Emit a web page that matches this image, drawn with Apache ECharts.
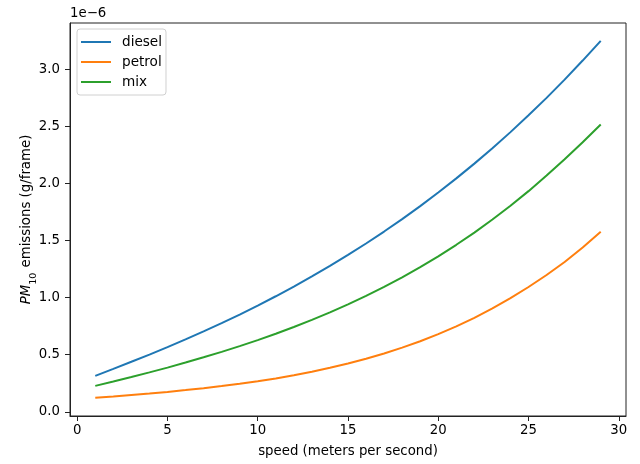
<!DOCTYPE html>
<html>
<head>
<meta charset="utf-8">
<script src="https://cdn.jsdelivr.net/npm/echarts@6/dist/echarts.min.js"></script>
<style>html,body{margin:0;padding:0;background:#fff;}#c{width:640px;height:464px;}</style>
</head>
<body>
<div id="c"></div>
<script>
// speed (m/s)
var speeds = [1,2,3,4,5,6,7,8,9,10,11,12,13,14,15,16,17,18,19,20,21,22,23,24,25,26,27,28,29];
// PM10 emissions in units of 1e-6 g/frame
var diesel = [0.315,0.376,0.438,0.501,0.566,0.634,0.704,0.776,0.851,0.930,1.012,1.097,1.186,1.278,1.374,1.474,1.579,1.688,1.802,1.921,2.045,2.174,2.309,2.450,2.597,2.750,2.910,3.077,3.250];
var petrol = [0.122,0.134,0.147,0.160,0.174,0.190,0.207,0.225,0.245,0.267,0.292,0.320,0.351,0.385,0.423,0.465,0.511,0.562,0.618,0.680,0.748,0.823,0.905,0.995,1.093,1.198,1.312,1.440,1.578];
var mix = [0.227,0.265,0.304,0.345,0.387,0.431,0.477,0.525,0.575,0.628,0.684,0.743,0.805,0.871,0.941,1.015,1.094,1.178,1.267,1.362,1.463,1.570,1.684,1.805,1.933,2.069,2.213,2.362,2.517];
var xTicks = [0,5,10,15,20,25,30];
var yTicks = [0,0.5,1.0,1.5,2.0,2.5,3.0];
var seriesNames = ['diesel','petrol','mix'];
var colors = ['#1f77b4','#ff7f0e','#2ca02c'];

function zip(ys){ return speeds.map(function(x,i){ return [x, ys[i]]; }); }
var font = 'DejaVu Sans';
var axisCol = '#222';
var fs = 13.3;

var chart = echarts.init(document.getElementById('c'), null, {renderer:'canvas'});
chart.setOption({
  animation:false,
  backgroundColor:'#fff',
  grid:{left:70, right:14, top:23, bottom:48, show:true, borderColor:axisCol, borderWidth:1, backgroundColor:'transparent'},
  legend:{
    orient:'vertical', left:77, top:29, padding:[6,4,6,4],
    itemWidth:30, itemHeight:2, itemGap:6, icon:'rect',
    borderColor:'#d0d0d0', borderWidth:1, borderRadius:3, backgroundColor:'rgba(255,255,255,0.8)',
    textStyle:{fontFamily:font, fontSize:13.6, color:'#000', padding:[0,0,0,6], lineHeight:14},
    data:seriesNames
  },
  xAxis:{
    type:'value', min:-0.4, max:30.4,
    name:'speed (meters per second)', nameLocation:'middle', nameGap:29, nameMoveOverlap:false,
    nameTextStyle:{fontFamily:font, fontSize:fs, color:'#000'},
    axisLine:{show:true, onZero:false, lineStyle:{color:axisCol, width:1}},
    axisTick:{show:true, inside:false, length:5, customValues:xTicks, lineStyle:{color:axisCol}},
    axisLabel:{fontFamily:font, fontSize:fs, color:'#000', margin:8, customValues:xTicks, formatter:function(v){return String(v);}},
    splitLine:{show:false}
  },
  yAxis:{
    type:'value', min:-0.037, max:3.406,
    name:'{i|PM}{s|10} emissions (g/frame)', nameLocation:'middle', nameGap:37, nameMoveOverlap:false,
    nameTextStyle:{fontFamily:font, fontSize:fs, color:'#000',
      rich:{i:{fontFamily:font, fontSize:fs, fontStyle:'italic', color:'#000'},
            s:{fontFamily:font, fontSize:9.5, color:'#000', verticalAlign:'bottom', padding:[0,1,-6,0]}}},
    axisLine:{show:true, onZero:false, lineStyle:{color:axisCol, width:1}},
    axisTick:{show:true, inside:false, length:5, customValues:yTicks, lineStyle:{color:axisCol}},
    axisLabel:{fontFamily:font, fontSize:fs, color:'#000', margin:10, customValues:yTicks, formatter:function(v){return v.toFixed(1);}},
    splitLine:{show:false}
  },
  graphic:[{type:'text', left:70, top:7, style:{text:'1e\u22126', font:'13.3px "DejaVu Sans"', fill:'#000'}}],
  series:[
    {name:seriesNames[0], type:'line', data:zip(diesel), showSymbol:false, symbol:'none', lineStyle:{width:2, color:colors[0]}, itemStyle:{color:colors[0]}},
    {name:seriesNames[1], type:'line', data:zip(petrol), showSymbol:false, symbol:'none', lineStyle:{width:2, color:colors[1]}, itemStyle:{color:colors[1]}},
    {name:seriesNames[2], type:'line', data:zip(mix), showSymbol:false, symbol:'none', lineStyle:{width:2, color:colors[2]}, itemStyle:{color:colors[2]}}
  ]
});
</script>
</body>
</html>
